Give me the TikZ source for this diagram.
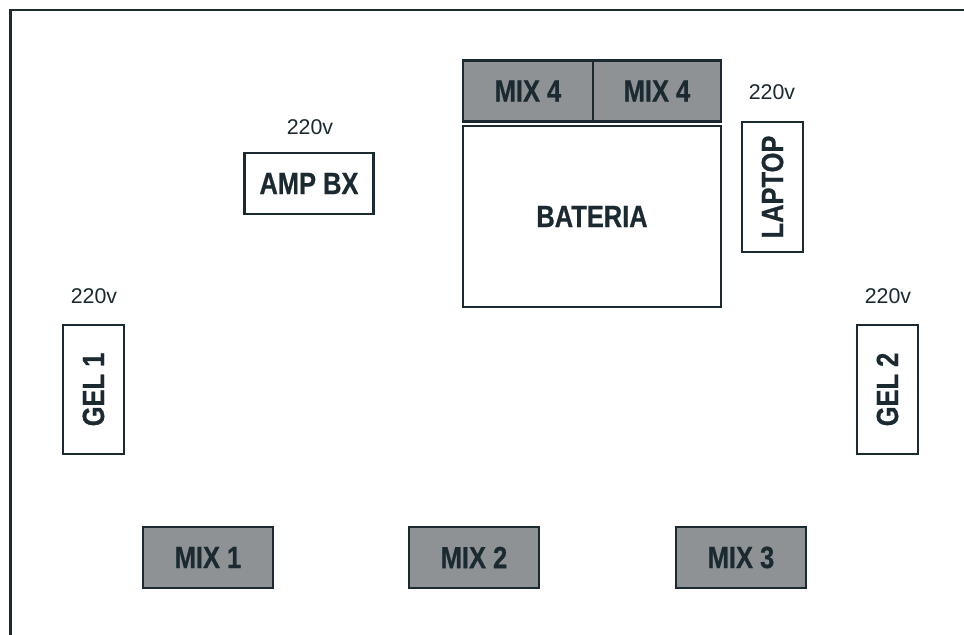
\documentclass[tikz,border=0pt]{standalone}
\usepackage{fontspec}
\setmainfont{Liberation Sans}
\newfontfamily\narrowbold[FakeStretch=0.83,FakeBold=0.6]{Liberation Sans Bold}
\definecolor{ink}{HTML}{1B2A30}
\definecolor{mixgrey}{HTML}{8E9295}
\tikzset{
  box/.style={draw=ink, line width=1.6pt, fill=white, inner sep=0pt, text=ink,
    font=\narrowbold\fontsize{23}{27}\selectfont},
  mixbox/.style={box, fill=mixgrey},
  vlabel/.style={text=ink, inner sep=0pt, rotate=90, font=\narrowbold\fontsize{23}{27}\selectfont},
  volt/.style={text=ink, inner sep=0pt, font=\fontsize{16}{18}\selectfont},
}
\begin{document}
\begin{tikzpicture}[x=0.75pt, y=-0.75pt]
\useasboundingbox (0,0) rectangle (964,635);
\fill[white] (0,0) rectangle (964,635);
\coordinate (tl) at (10.5,10);
\coordinate (tr) at (964,10);
\coordinate (bl) at (10.5,635);
\draw[ink, line width=2.2pt] (tr) -- (tl) -- (bl);

% MIX 4 pair
\node[mixbox, minimum width=130*0.75pt, minimum height=61*0.75pt] (mix4a) at (528,91) {MIX 4};
\node[mixbox, minimum width=128*0.75pt, minimum height=61*0.75pt] (mix4b) at (657,91) {MIX 4};
% BATERIA
\node[box, minimum width=258*0.75pt, minimum height=181*0.75pt] (bat) at (592,216.5) {BATERIA};
% AMP BX
\node[box, minimum width=129*0.75pt, minimum height=61*0.75pt] (amp) at (309,183.5) {AMP BX};
\node[volt] (vamp) at (310,127) {220v};
% LAPTOP
\node[box, minimum width=61*0.75pt, minimum height=130*0.75pt] (lap) at (772.5,187) {};
\node[vlabel] (laptxt) at (lap.center) {LAPTOP};
\node[volt] (vlap) at (772,92) {220v};
% GEL 1
\node[box, minimum width=61*0.75pt, minimum height=129*0.75pt] (gel1) at (93.5,389.5) {};
\node[vlabel] (gel1txt) at (gel1.center) {GEL 1};
\node[volt] (vgel1) at (94,296) {220v};
% GEL 2
\node[box, minimum width=61*0.75pt, minimum height=129*0.75pt] (gel2) at (887.5,389.5) {};
\node[vlabel] (gel2txt) at (gel2.center) {GEL 2};
\node[volt] (vgel2) at (888,296) {220v};
% MIX 1-3
\node[mixbox, minimum width=130*0.75pt, minimum height=61*0.75pt] (mix1) at (208,557.5) {MIX 1};
\node[mixbox, minimum width=130*0.75pt, minimum height=61*0.75pt] (mix2) at (474,557.5) {MIX 2};
\node[mixbox, minimum width=130*0.75pt, minimum height=61*0.75pt] (mix3) at (741,557.5) {MIX 3};
\end{tikzpicture}
\end{document}
